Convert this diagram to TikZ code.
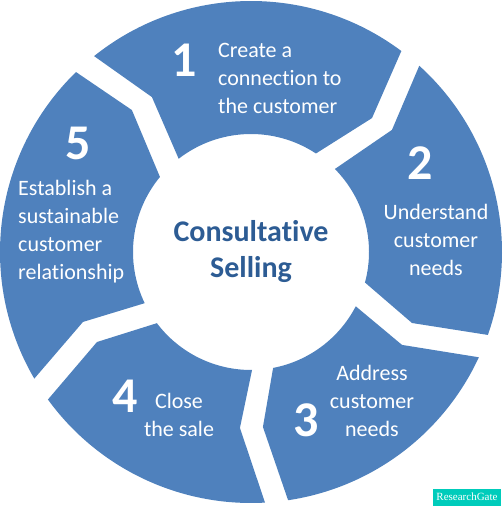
\documentclass[tikz,border=0pt]{standalone}
\usepackage{fontspec}
\setmainfont{Carlito}[Ligatures={NoCommon}]
\newfontfamily\badgefont{Liberation Serif}
\usepackage{xcolor}
\usepackage{tikz}

\definecolor{ringblue}{HTML}{4F81BD}
\definecolor{titleblue}{HTML}{2D5C94}
\definecolor{rgteal}{HTML}{00CCBB}

\begin{document}
\begin{tikzpicture}[x=1pt,y=1pt,
      segment/.style={fill=ringblue},
      number/.style={text=white,inner sep=0pt,font=\fontsize{50}{50}\selectfont\bfseries},
      stage/.style={text=white,inner sep=0pt,font=\fontsize{22}{28}\selectfont},
      title/.style={text=titleblue,align=center,font=\fontsize{30}{36}\selectfont\bfseries},
      badge/.style={fill=rgteal,text=white,minimum width=68,minimum height=17,inner sep=0pt,
        font=\badgefont\fontsize{11}{11}\selectfont}]
  \useasboundingbox (-251,-258) rectangle (251,252);

  \fill[segment] (128.7:251) arc[start angle=128.7,end angle=53.2,radius=251]
    -- (47.9:180.5) -- (56.6:118) arc[start angle=56.6,end angle=127.8,radius=118]
    -- (122.6:183.9) -- cycle;
  \fill[segment] (47.9:251) arc[start angle=47.9,end angle=-19.3,radius=251]
    -- (-23.8:176) -- (-15:118) arc[start angle=-15,end angle=44.7,radius=118]
    -- (40.9:186.5) -- cycle;
  \fill[segment] (-24.8:251) arc[start angle=-24.8,end angle=-81.5,radius=251]
    -- (-86.1:175.4) -- (-79.2:118) arc[start angle=-79.2,end angle=-27.4,radius=118]
    -- (-31.6:177.3) -- cycle;
  \fill[segment] (-86.8:251) arc[start angle=-86.8,end angle=-144,radius=251]
    -- (-149.7:178.4) -- (-142.9:118) arc[start angle=-142.9,end angle=-89.5,radius=118]
    -- (-93.6:176.3) -- cycle;
  \fill[segment] (-149.7:251) arc[start angle=-149.7,end angle=-225.8,radius=251]
    -- (-230:185.3) -- (-219.5:118) arc[start angle=-219.5,end angle=-154.3,radius=118]
    -- (-157.4:182) -- cycle;

  \node[title] (center) at (0,0) {Consultative\\Selling};

  \node[number] (n1) at (-67,192) {1};
  \node[stage,anchor=west,align=left] (s1) at (-33,174) {Create a\\connection to\\the customer};
  \node[number] (n2) at (169,89) {2};
  \node[stage,align=center] (s2) at (185,12) {Understand\\customer\\needs};
  \node[number] (n3) at (55,-168) {3};
  \node[stage,align=center] (s3) at (121,-149) {Address\\customer\\needs};
  \node[number] (n4) at (-126,-144) {4};
  \node[stage,align=center] (s4) at (-72,-163) {Close\\the sale};
  \node[number] (n5) at (-173,109) {5};
  \node[stage,anchor=west,align=left] (s5) at (-233,20) {Establish a\\sustainable\\customer\\relationship};

  \node[badge] (rg) at (216,-245) {ResearchGate};
\end{tikzpicture}
\end{document}
